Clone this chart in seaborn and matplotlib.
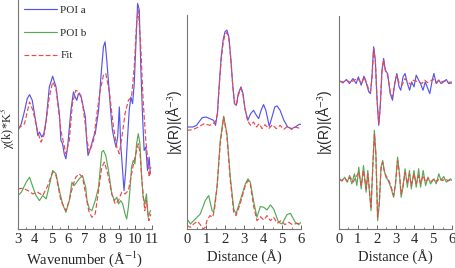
import numpy as np
import pandas as pd
import matplotlib
matplotlib.use('Agg')
import matplotlib.pyplot as plt
from matplotlib.ticker import MultipleLocator
import seaborn as sns

# ---- k-space (panel 1), offset arbitrary units ----
k_a = [3.00, 3.20, 3.40, 3.55, 3.69, 3.85, 4.08, 4.18, 4.28, 4.42, 4.54, 4.68, 4.87, 5.07, 5.27, 5.47,
       5.56, 5.66, 5.76, 5.86, 5.96, 6.16, 6.31, 6.41, 6.51, 6.61, 6.75, 6.94, 7.02, 7.10, 7.18, 7.32,
       7.51, 7.61, 7.81, 7.95, 8.10, 8.20, 8.30, 8.44, 8.56, 8.64, 8.76, 8.85, 8.95, 9.05, 9.13, 9.23,
       9.33, 9.43, 9.52, 9.64, 9.74, 9.84, 9.94, 10.04, 10.14, 10.24, 10.33, 10.43, 10.53, 10.63, 10.73,
       10.83, 10.90]
chi_a = [2.95, 3.15, 3.55, 3.90, 4.02, 3.85, 3.15, 2.80, 2.90, 2.75, 2.85, 3.25, 4.25, 4.57, 4.25, 3.45,
         2.65, 2.55, 2.25, 2.10, 2.45, 3.55, 4.10, 3.95, 3.85, 4.05, 4.00, 3.55, 3.35, 2.65, 2.20, 2.40,
         2.75, 2.85, 3.55, 4.55, 5.45, 5.60, 5.05, 4.15, 3.35, 2.95, 2.65, 2.45, 2.75, 3.65, 2.55, 1.85,
         1.15, 1.75, 2.55, 3.55, 3.95, 3.75, 4.35, 5.55, 6.75, 6.55, 4.85, 3.45, 2.35, 2.45, 1.75,
         2.15, 1.65]

k_fit_a = [3.00, 3.39, 3.69, 3.89, 4.18, 4.38, 4.58, 4.87, 5.07, 5.27, 5.56, 5.86, 6.06, 6.25, 6.45, 6.65,
           6.85, 7.04, 7.12, 7.26, 7.51, 7.71, 7.91, 8.10, 8.24, 8.44, 8.70, 8.90, 9.05, 9.23, 9.39, 9.59,
           9.78, 9.94, 10.08, 10.18, 10.31, 10.47, 10.63, 10.73, 10.83, 10.93]
chi_fit_a = [3.00, 3.15, 3.80, 3.55, 2.90, 2.60, 2.85, 3.95, 4.40, 4.20, 2.95, 2.25, 2.65, 3.75, 4.15, 4.10,
             3.75, 3.05, 2.65, 2.30, 2.65, 3.45, 4.15, 4.60, 4.65, 4.15, 3.05, 2.45, 2.25, 2.85, 3.45, 3.85,
             3.95, 4.85, 6.15, 6.55, 5.65, 3.85, 2.65, 2.15, 1.55, 1.85]

k_b = [3.00, 3.20, 3.49, 3.69, 3.89, 4.08, 4.28, 4.48, 4.68, 4.87, 5.07, 5.27, 5.47, 5.66, 5.86, 6.06,
       6.22, 6.35, 6.51, 6.65, 6.85, 7.04, 7.12, 7.26, 7.41, 7.61, 7.81, 8.00, 8.10, 8.24, 8.40, 8.60,
       8.76, 8.90, 9.00, 9.13, 9.25, 9.39, 9.49, 9.59, 9.68, 9.78, 9.88, 9.98, 10.08, 10.18, 10.28, 10.37,
       10.47, 10.57, 10.67, 10.77, 10.91]
chi_b = [1.00, 1.10, 1.40, 1.55, 1.25, 1.00, 0.85, 1.00, 0.90, 1.30, 1.75, 1.65, 1.15, 0.75, 0.50, 0.85,
         1.40, 1.30, 1.40, 1.50, 1.60, 1.25, 0.85, 0.60, 0.55, 0.85, 1.25, 2.30, 2.35, 2.20, 1.75, 1.05,
         0.85, 0.95, 0.75, 0.85, 0.75, 0.45, 0.30, 0.65, 1.15, 1.85, 2.05, 1.95, 2.55, 2.85, 2.55, 1.65,
         0.95, 0.75, 1.05, 0.35, 0.55]

k_fit_b = [3.00, 3.30, 3.59, 3.89, 4.18, 4.48, 4.78, 5.07, 5.27, 5.56, 5.86, 6.06, 6.25, 6.45, 6.65, 6.85,
           7.04, 7.22, 7.41, 7.61, 7.81, 8.00, 8.16, 8.36, 8.60, 8.80, 9.00, 9.19, 9.39, 9.59, 9.78, 9.94,
           10.08, 10.18, 10.28, 10.41, 10.57, 10.67, 10.81, 10.93]
chi_fit_b = [1.20, 1.22, 1.15, 1.05, 1.10, 1.00, 1.30, 1.70, 1.60, 0.85, 0.55, 0.85, 1.25, 1.55, 1.65, 1.55,
             1.05, 0.55, 0.35, 0.45, 1.15, 1.85, 2.00, 1.65, 1.05, 0.75, 0.85, 1.10, 1.05, 1.15, 1.65, 2.05,
             2.35, 2.55, 2.30, 1.35, 0.55, 0.85, 0.25, 0.45]

# ---- R-space magnitude (panel 2) ----
r_a = [0.0, 0.3, 0.5, 0.8, 1.0, 1.2, 1.4, 1.5, 1.6, 1.7, 1.8, 1.9, 2.0, 2.1, 2.2, 2.3, 2.4, 2.5, 2.6,
       2.7, 2.84, 2.95, 3.05, 3.2, 3.35, 3.5, 3.65, 3.77, 3.9, 4.03, 4.15, 4.33, 4.5, 4.62, 4.74, 4.9,
       5.1, 5.3, 5.5, 5.7, 5.9, 6.0]
mag_a = [3.05, 3.05, 3.10, 3.33, 3.35, 3.30, 3.25, 3.10, 3.45, 4.35, 5.15, 5.65, 5.90, 5.95, 5.75, 5.15,
         4.35, 3.75, 3.70, 4.05, 4.25, 4.05, 3.60, 3.25, 3.45, 3.55, 3.40, 3.30, 3.55, 3.72, 3.55, 3.07,
         3.40, 3.65, 3.68, 3.55, 3.25, 3.05, 3.00, 3.05, 3.13, 3.13]
r_fit_a = [0.0, 0.3, 0.6, 0.9, 1.2, 1.5, 1.6, 1.7, 1.8, 1.9, 2.0, 2.1, 2.2, 2.3, 2.4, 2.5, 2.6, 2.7,
           2.84, 2.95, 3.05, 3.2, 3.35, 3.5, 3.65, 3.8, 3.95, 4.1, 4.3, 4.5, 4.7, 4.9, 5.1, 5.3, 5.5,
           5.7, 6.0]
mag_fit_a = [2.95, 2.97, 3.05, 3.15, 3.10, 3.20, 3.45, 4.30, 5.05, 5.55, 5.82, 5.88, 5.70, 5.10, 4.35,
             3.75, 3.70, 4.00, 4.20, 4.00, 3.60, 3.22, 3.10, 3.20, 3.05, 3.15, 3.00, 3.12, 3.00, 3.12,
             3.00, 3.10, 2.98, 3.08, 2.98, 3.05, 3.00]

r_b = [0.0, 0.18, 0.35, 0.7, 0.96, 1.14, 1.32, 1.4, 1.58, 1.75, 1.93, 2.1, 2.28, 2.46, 2.58, 2.8, 3.07,
       3.21, 3.33, 3.5, 3.68, 3.86, 4.04, 4.21, 4.39, 4.56, 4.82, 5.0, 5.26, 5.44, 5.7, 5.88, 6.0]
mag_b = [0.30, 0.15, 0.25, 0.45, 0.85, 1.00, 0.55, 0.50, 1.25, 2.65, 3.37, 2.85, 1.55, 0.60, 0.45, 0.85,
         1.35, 1.50, 1.40, 0.85, 0.35, 0.67, 0.65, 0.57, 0.72, 0.60, 0.20, 0.15, 0.43, 0.47, 0.20, 0.13, 0.20]
r_fit_b = [0.0, 0.18, 0.35, 0.55, 0.7, 0.85, 0.96, 1.05, 1.2, 1.35, 1.45, 1.58, 1.75, 1.93, 2.1, 2.28,
           2.46, 2.58, 2.8, 3.07, 3.21, 3.33, 3.5, 3.68, 3.86, 4.04, 4.21, 4.39, 4.56, 4.75, 4.95, 5.15,
           5.35, 5.55, 5.8, 6.0]
mag_fit_b = [0.10, 0.05, 0.15, 0.23, 0.13, 0.0, 0.05, 0.25, 0.40, 0.35, 0.60, 1.25, 2.55, 3.35, 2.80,
             1.45, 0.50, 0.40, 0.75, 1.30, 1.45, 1.35, 0.70, 0.25, 0.37, 0.27, 0.40, 0.25, 0.35, 0.17,
             0.25, 0.13, 0.20, 0.13, 0.17, 0.15]

# ---- R-space real part (panel 3) ----
r3_a = [0.03, 0.21, 0.39, 0.56, 0.74, 0.91, 1.03, 1.18, 1.32, 1.46, 1.58, 1.67, 1.75, 1.84, 1.93, 2.02,
        2.11, 2.19, 2.28, 2.37, 2.46, 2.58, 2.72, 2.84, 2.96, 3.07, 3.19, 3.28, 3.40, 3.51, 3.63, 3.75,
        3.86, 3.98, 4.10, 4.23, 4.33, 4.46, 4.58, 4.68, 4.82, 4.95, 5.04, 5.16, 5.30, 5.42, 5.56, 5.70,
        5.82, 6.00]
re_a = [4.43, 4.37, 4.47, 4.35, 4.50, 4.35, 4.55, 4.30, 4.57, 4.35, 4.10, 4.05, 4.55, 5.45, 5.05, 3.85,
        3.10, 3.65, 4.75, 5.10, 4.75, 4.65, 4.05, 3.85, 4.35, 4.65, 4.25, 4.15, 4.55, 4.65, 4.35, 4.15,
        4.40, 4.25, 4.60, 4.45, 4.35, 4.15, 4.40, 4.25, 4.05, 4.45, 4.65, 4.35, 4.45, 4.35, 4.40, 4.47,
        4.35, 4.37]
r3_fit_a = [0.0, 0.2, 0.4, 0.6, 0.8, 1.0, 1.2, 1.35, 1.5, 1.6, 1.67, 1.75, 1.84, 1.93, 2.02, 2.11, 2.19,
            2.28, 2.37, 2.46, 2.58, 2.72, 2.84, 2.96, 3.07, 3.2, 3.35, 3.5, 3.65, 3.8, 3.95, 4.1, 4.25,
            4.4, 4.55, 4.7, 4.85, 5.0, 5.15, 5.3, 5.45, 5.6, 5.8, 6.0]
re_fit_a = [4.42, 4.40, 4.45, 4.38, 4.45, 4.50, 4.35, 4.55, 4.30, 4.15, 4.10, 4.50, 5.40, 5.00, 3.90,
            3.15, 3.65, 4.70, 5.05, 4.75, 4.60, 4.10, 3.95, 4.35, 4.60, 4.35, 4.30, 4.50, 4.40, 4.32,
            4.45, 4.42, 4.40, 4.35, 4.45, 4.38, 4.42, 4.48, 4.38, 4.45, 4.40, 4.43, 4.38, 4.40]

r3_b = [0.04, 0.16, 0.30, 0.44, 0.56, 0.68, 0.82, 0.95, 1.05, 1.18, 1.30, 1.44, 1.53, 1.61, 1.70, 1.79,
        1.88, 1.96, 2.05, 2.14, 2.23, 2.32, 2.40, 2.49, 2.61, 2.75, 2.90, 3.00, 3.11, 3.21, 3.30, 3.40,
        3.51, 3.63, 3.74, 3.84, 3.98, 4.10, 4.23, 4.33, 4.47, 4.60, 4.72, 4.86, 5.04, 5.16, 5.30, 5.42,
        5.56, 5.70, 5.91, 6.00]
re_b = [1.50, 1.43, 1.55, 1.40, 1.60, 1.35, 1.65, 1.30, 1.85, 1.20, 1.90, 1.10, 1.75, 1.15, 0.55, 1.85,
        2.95, 2.25, 0.25, 0.75, 1.85, 2.05, 1.75, 1.55, 1.45, 1.25, 0.95, 1.35, 2.15, 1.65, 0.95, 1.25,
        1.80, 1.25, 1.75, 1.20, 1.75, 1.25, 1.80, 1.25, 1.75, 1.30, 1.55, 1.35, 1.50, 1.35, 1.65, 1.45,
        1.57, 1.40, 1.50, 1.45]
r3_fit_b = [0.0, 0.15, 0.3, 0.45, 0.6, 0.75, 0.9, 1.05, 1.18, 1.30, 1.44, 1.53, 1.61, 1.70, 1.79, 1.88,
            1.96, 2.05, 2.14, 2.23, 2.32, 2.40, 2.49, 2.61, 2.75, 2.90, 3.00, 3.11, 3.21, 3.30, 3.40,
            3.51, 3.63, 3.74, 3.84, 3.98, 4.10, 4.23, 4.33, 4.47, 4.60, 4.75, 4.90, 5.05, 5.2, 5.35,
            5.5, 5.65, 5.8, 6.0]
re_fit_b = [1.48, 1.45, 1.52, 1.42, 1.55, 1.40, 1.55, 1.70, 1.30, 1.75, 1.20, 1.65, 1.20, 0.65, 1.80,
            2.85, 2.20, 0.35, 0.80, 1.80, 2.00, 1.75, 1.60, 1.50, 1.30, 1.00, 1.35, 2.05, 1.65, 1.05,
            1.30, 1.70, 1.35, 1.65, 1.30, 1.65, 1.35, 1.60, 1.35, 1.60, 1.40, 1.52, 1.42, 1.50, 1.42,
            1.52, 1.45, 1.50, 1.44, 1.48]

blue = '#5555ee'
green = '#55aa55'
red = '#ee4848'
dash = (0, (4, 2))

sns.set_theme(style='white')
plt.rcParams['font.family'] = ['Liberation Serif', 'DejaVu Serif']
plt.rcParams['mathtext.fontset'] = 'stix'

fig = plt.figure(figsize=(4.55, 2.68), dpi=100)
ax1 = fig.add_axes([18 / 455, 39 / 268, 134 / 455, 229 / 268])
ax2 = fig.add_axes([187 / 455, 39 / 268, 114 / 455, 214 / 268])
ax3 = fig.add_axes([339 / 455, 39 / 268, 113 / 455, 213 / 268])


def draw(ax, x, y, color, label=None, dashed=False):
    sns.lineplot(x=x, y=y, ax=ax, color=color, label=label, sort=False, estimator=None,
                 lw=0.85, linestyle=dash if dashed else '-')


draw(ax1, k_a, chi_a, blue, 'POI a')
draw(ax1, k_b, chi_b, green, 'POI b')
draw(ax1, k_fit_a, chi_fit_a, red, 'Fit', dashed=True)
draw(ax1, k_fit_b, chi_fit_b, red, dashed=True)

draw(ax2, r_a, mag_a, blue)
draw(ax2, r_fit_a, mag_fit_a, red, dashed=True)
draw(ax2, r_b, mag_b, green)
draw(ax2, r_fit_b, mag_fit_b, red, dashed=True)

draw(ax3, r3_a, re_a, blue)
draw(ax3, r3_fit_a, re_fit_a, red, dashed=True)
draw(ax3, r3_b, re_b, green)
draw(ax3, r3_fit_b, re_fit_b, red, dashed=True)

ax1.set_xlim(3, 11)
ax1.set_ylim(0, 6.85)
ax2.set_xlim(0, 6)
ax2.set_ylim(0, 6.40)
ax3.set_xlim(0, 6)
ax3.set_ylim(0, 6.37)

for ax in (ax1, ax2, ax3):
    ax.set_yticks([])
    ax.xaxis.set_major_locator(MultipleLocator(1))
    ax.xaxis.set_minor_locator(MultipleLocator(0.5))
    ax.tick_params(axis='x', which='major', direction='in', length=3, width=0.7,
                   labelsize=10.5, pad=3, bottom=True, color='#666666')
    ax.tick_params(axis='x', which='minor', direction='in', length=1.8, width=0.6,
                   bottom=True, color='#666666')
    for s in ('top', 'right'):
        ax.spines[s].set_visible(False)
    for s in ('left', 'bottom'):
        ax.spines[s].set_color('#777777')
        ax.spines[s].set_linewidth(0.8)
    ax.set_facecolor('none')

ax1.set_xlabel('Wavenumber (Å$^{-1}$)', fontsize=10.5, labelpad=2)
ax2.set_xlabel('Distance (Å)', fontsize=10.5, labelpad=2)
ax3.set_xlabel('Distance (Å)', fontsize=10.5, labelpad=2)

ax1.set_ylabel('χ(k)*K$^{3}$', fontsize=9)
ax1.yaxis.set_label_coords(-0.01, 0.44)
sans = ['Liberation Sans', 'DejaVu Sans']
ax2.set_ylabel('|χ(R)|(Å$^{-3}$)', fontsize=10, family=sans)
ax2.yaxis.set_label_coords(-0.025, 0.5)
ax3.set_ylabel('|χ(R)|(Å$^{-3}$)', fontsize=10, family=sans)
ax3.yaxis.set_label_coords(-0.045, 0.5)

ax1.legend(loc='upper left', bbox_to_anchor=(0.0, 1.0), frameon=False, fontsize=8,
           handlelength=3.0, labelspacing=1.15, handletextpad=0.3, borderaxespad=0.1)

fig.savefig('out.png', dpi=100)
